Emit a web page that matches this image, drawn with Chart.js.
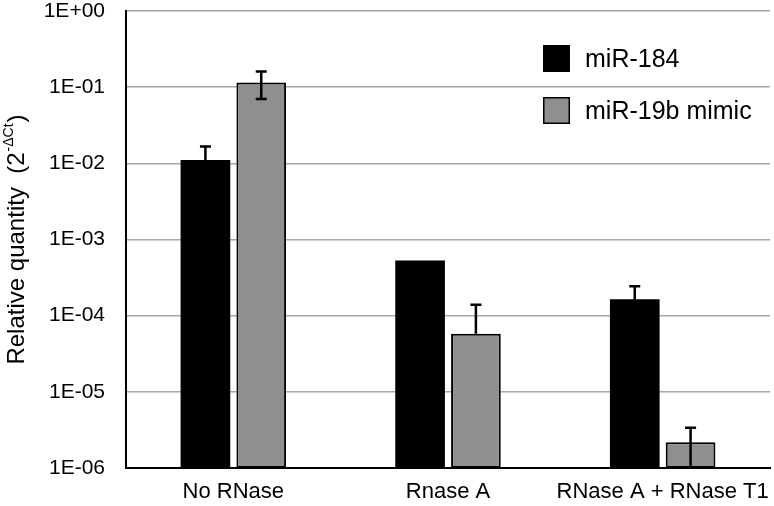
<!DOCTYPE html>
<html>
<head>
<meta charset="utf-8">
<script src="https://cdn.jsdelivr.net/npm/chart.js@4.4.0/dist/chart.umd.min.js"></script>
<style>
  html, body { margin: 0; padding: 0; background: #fff; }
</style>
</head>
<body>
<canvas id="resultsChart" width="774" height="506"></canvas>
<script>
'use strict';
var categories = ['No RNase', 'Rnase A', 'RNase A + RNase T1'];
var seriesNames = ['miR-184', 'miR-19b mimic'];
var mir184 = [0.0111, 0.00053, 0.000164];
var mir184Err = [0.0055, 0, 0.00008];
var mimic = [0.115, 0.000058, 0.00000218];
var mimicErr = [0.045, 0.000081, 0.0000012];
var yTickValues = [1, 1e-1, 1e-2, 1e-3, 1e-4, 1e-5, 1e-6];
var yTickLabels = ['1E+00', '1E-01', '1E-02', '1E-03', '1E-04', '1E-05', '1E-06'];
var yTitleMain = 'Relative quantity  (2';
var yTitleSup = '-\u0394Ct';
var yTitleEnd = ')';

var fontFamily = "'Liberation Sans', Arial, sans-serif";
var ctx = document.getElementById('resultsChart').getContext('2d');

// draws the +/- whiskers, the lower one only when it stays above zero
var errorBars = {
  id: 'errorBars',
  afterDatasetsDraw: function (chart) {
    var c = chart.ctx;
    var y = chart.scales.y;
    var area = chart.chartArea;
    c.save();
    c.beginPath();
    c.rect(area.left, area.top, area.right - area.left, area.bottom - area.top);
    c.clip();
    c.strokeStyle = '#000';
    c.lineWidth = 2.5;
    chart.data.datasets.forEach(function (ds, di) {
      var meta = chart.getDatasetMeta(di);
      meta.data.forEach(function (bar, i) {
        var v = ds.data[i];
        var e = ds.errors[i];
        if (!e) return;
        var top = y.getPixelForValue(v + e);
        var low = v - e > 0;
        var bottom = low ? y.getPixelForValue(v - e) : bar.y;
        c.beginPath();
        c.moveTo(bar.x, top);
        c.lineTo(bar.x, bottom);
        c.moveTo(bar.x - 5.5, top);
        c.lineTo(bar.x + 5.5, top);
        if (low) {
          c.moveTo(bar.x - 5.5, bottom);
          c.lineTo(bar.x + 5.5, bottom);
        }
        c.stroke();
      });
    });
    c.restore();
  }
};

// legend box in the top right corner and the y title with its superscript
var extras = {
  id: 'extras',
  afterDraw: function (chart) {
    var c = chart.ctx;
    c.save();
    c.font = '25px ' + fontFamily;
    c.textBaseline = 'middle';
    c.textAlign = 'left';
    c.fillStyle = '#000';
    var rows = [45, 97];
    chart.data.datasets.forEach(function (ds, i) {
      var top = rows[i];
      c.fillStyle = ds.backgroundColor;
      c.fillRect(543, top, 27, 27);
      if (ds.borderWidth) {
        c.strokeStyle = '#000';
        c.lineWidth = 1.5;
        c.strokeRect(543.75, top + 0.75, 25.5, 25.5);
      }
      c.fillStyle = '#000';
      c.font = '25px ' + fontFamily;
      c.fillText(ds.label, 585, top + 15);
    });

    var area = chart.chartArea;
    c.translate(17, (area.top + area.bottom) / 2);
    c.rotate(-Math.PI / 2);
    c.font = '24px ' + fontFamily;
    var w1 = c.measureText(yTitleMain).width;
    var w3 = c.measureText(yTitleEnd).width;
    c.font = '14px ' + fontFamily;
    var w2 = c.measureText(yTitleSup).width;
    var x0 = -(w1 + w2 + w3 + 2) / 2;
    c.font = '24px ' + fontFamily;
    c.fillText(yTitleMain, x0, 0);
    c.font = '14px ' + fontFamily;
    c.fillText(yTitleSup, x0 + w1 + 1, -8);
    c.font = '24px ' + fontFamily;
    c.fillText(yTitleEnd, x0 + w1 + w2 + 2, 0);
    c.restore();
  }
};

var chart = new Chart(ctx, {
  type: 'bar',
  data: {
    labels: categories,
    datasets: [{
      label: seriesNames[0],
      data: mir184,
      errors: mir184Err,
      backgroundColor: '#000000',
      borderWidth: 0,
      barPercentage: 0.89,
      categoryPercentage: 0.52
    }, {
      label: seriesNames[1],
      data: mimic,
      errors: mimicErr,
      backgroundColor: '#8f8f8f',
      borderColor: '#000000',
      borderWidth: 2,
      borderSkipped: false,
      barPercentage: 0.89,
      categoryPercentage: 0.52
    }]
  },
  options: {
    responsive: false,
    animation: false,
    layout: { padding: { top: 11, right: 4, left: 0, bottom: 0 } },
    plugins: {
      legend: { display: false },
      tooltip: { enabled: false }
    },
    scales: {
      x: {
        grid: { display: false, drawTicks: false },
        border: { color: '#000', width: 2 },
        ticks: {
          color: '#000',
          font: { family: fontFamily, size: 22 },
          padding: 11,
          maxRotation: 0,
          autoSkip: false
        },
        afterFit: function (s) {
          s.height = 38;
          s.paddingLeft = 0;
          s.paddingRight = 0;
        }
      },
      y: {
        type: 'logarithmic',
        min: 1e-6,
        max: 1,
        grid: { color: '#a8a8a8', lineWidth: 1.5, drawTicks: false },
        border: { color: '#000', width: 2 },
        ticks: {
          color: '#000',
          font: { family: fontFamily, size: 21 },
          padding: 21,
          callback: function (value) {
            var k = yTickValues.indexOf(value);
            return k >= 0 ? yTickLabels[k] : '';
          }
        },
        afterBuildTicks: function (s) {
          s.ticks = yTickValues.map(function (v) { return { value: v }; });
        },
        afterFit: function (s) {
          s.width = 126;
          s.paddingTop = 0;
          s.paddingBottom = 0;
        }
      }
    }
  },
  plugins: [errorBars, extras]
});
</script>
</body>
</html>
